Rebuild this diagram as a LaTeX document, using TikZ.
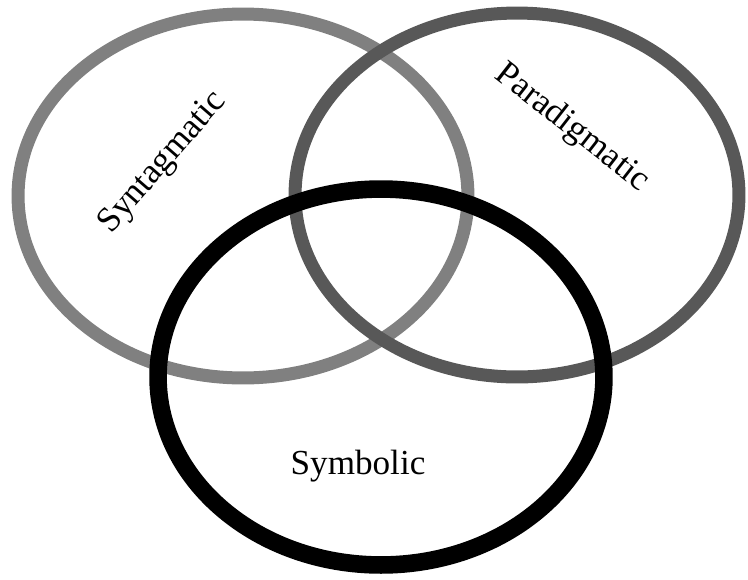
\documentclass[tikz,border=0pt]{standalone}
\usepackage{fontspec}
\setmainfont{Liberation Serif}
\usetikzlibrary{shapes.geometric}

\definecolor{lightring}{RGB}{128,128,128}
\definecolor{darkring}{RGB}{88,88,88}

\tikzset{
  ring/.style={draw, ellipse, inner sep=0pt},
  label/.style={font=\fontsize{20}{23}\selectfont, inner sep=0pt}
}

\begin{document}
\begin{tikzpicture}[x=0.02cm, y=-0.02cm]
    \useasboundingbox (0,0) rectangle (748,579);

    % ringe
    \node[ring, draw=lightring, line width=7.4pt, minimum width=9cm, minimum height=7.28cm] (syn) at (243,196) {};
    \node[ring, draw=darkring, line width=7.4pt, minimum width=8.88cm, minimum height=7.28cm] (par) at (517,195) {};
    \node[ring, draw=black, line width=10pt, minimum width=8.92cm, minimum height=7.52cm] (sym) at (381,377) {};

    % beschriftung
    \node[label, rotate=49] (syntext) at (163,163) {Syntagmatic};
    \node[label, rotate=-38] (partext) at (572,128) {Paradigmatic};
    \node[label] (symtext) at (358,466) {Symbolic};
\end{tikzpicture}
\end{document}
